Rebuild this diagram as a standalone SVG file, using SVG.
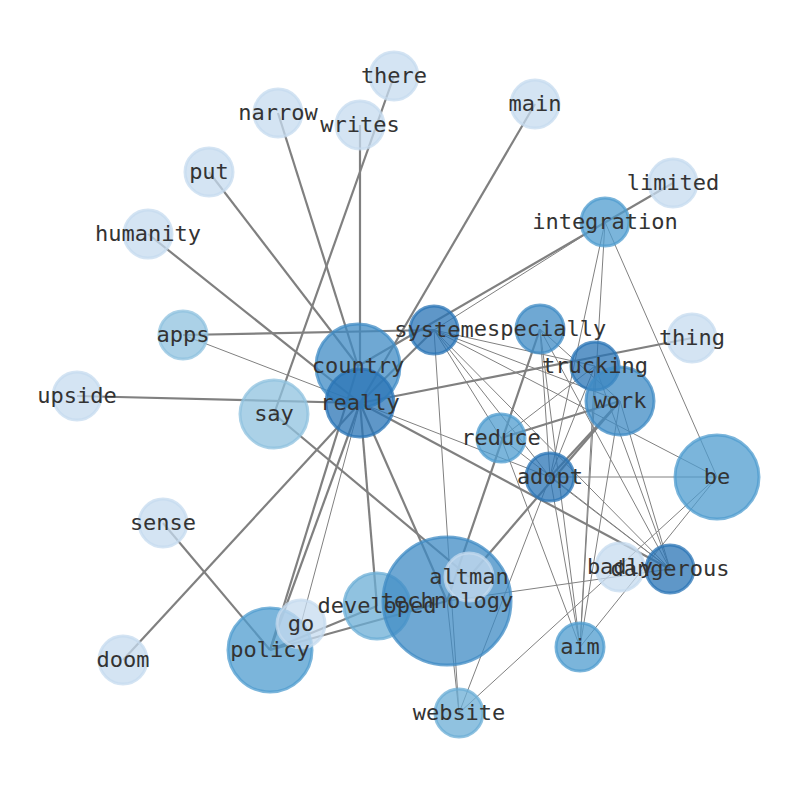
<svg xmlns="http://www.w3.org/2000/svg" width="794" height="790" viewBox="0 0 794 790">
<style>
.e{stroke:#808080;fill:none}
.t{stroke-width:2.2}
.n{stroke-width:1}
circle{stroke-width:3;fill-opacity:0.75;stroke-opacity:0.75}
.c1{fill:#c6dbef;stroke:#c6dbef}
.c2{fill:#8fc2df;stroke:#8fc2df}
.c3{fill:#6baed6;stroke:#6baed6}
.c4{fill:#4f9ccf;stroke:#4f9ccf}
.c5{fill:#3f8bc4;stroke:#3f8bc4}
.c6{fill:#2a74b6;stroke:#2a74b6}
text{font-family:"DejaVu Sans Mono","Liberation Mono",monospace;font-size:22px;fill:#333;text-anchor:middle}
</style>
<rect width="794" height="790" fill="#fff"/>
<g id="edges">
<line class="e t" x1="77" y1="396" x2="360" y2="403"/>
<line class="e t" x1="148" y1="234" x2="360" y2="403"/>
<line class="e t" x1="209" y1="172" x2="358" y2="366"/>
<line class="e t" x1="278" y1="113" x2="358" y2="366"/>
<line class="e t" x1="360" y1="125" x2="360" y2="366"/>
<line class="e t" x1="394" y1="76" x2="274" y2="414"/>
<line class="e t" x1="535" y1="104" x2="360" y2="403"/>
<line class="e t" x1="673" y1="183" x2="358" y2="366"/>
<line class="e t" x1="360" y1="403" x2="692" y2="338"/>
<line class="e t" x1="360" y1="403" x2="670" y2="569"/>
<line class="e t" x1="123" y1="660" x2="360" y2="403"/>
<line class="e t" x1="360" y1="403" x2="270" y2="650"/>
<line class="e t" x1="358" y1="366" x2="270" y2="650"/>
<line class="e t" x1="360" y1="403" x2="377" y2="606"/>
<line class="e t" x1="360" y1="403" x2="447" y2="601"/>
<line class="e n" x1="360" y1="403" x2="301" y2="624"/>
<line class="e t" x1="163" y1="523" x2="270" y2="650"/>
<line class="e t" x1="270" y1="650" x2="377" y2="606"/>
<line class="e t" x1="270" y1="650" x2="447" y2="601"/>
<line class="e t" x1="620" y1="401" x2="469" y2="577"/>
<line class="e t" x1="501" y1="438" x2="620" y2="401"/>
<line class="e t" x1="540" y1="329" x2="447" y2="601"/>
<line class="e t" x1="434" y1="330" x2="360" y2="403"/>
<line class="e t" x1="183" y1="335" x2="434" y2="330"/>
<line class="e t" x1="274" y1="414" x2="469" y2="577"/>
<line class="e n" x1="183" y1="335" x2="360" y2="403"/>
<line class="e n" x1="605" y1="222" x2="434" y2="330"/>
<line class="e n" x1="605" y1="222" x2="580" y2="647"/>
<line class="e n" x1="605" y1="222" x2="717" y2="477"/>
<line class="e n" x1="605" y1="222" x2="550" y2="477"/>
<line class="e n" x1="434" y1="330" x2="459" y2="713"/>
<line class="e n" x1="434" y1="330" x2="550" y2="477"/>
<line class="e n" x1="434" y1="330" x2="501" y2="438"/>
<line class="e n" x1="434" y1="330" x2="595" y2="366"/>
<line class="e n" x1="434" y1="330" x2="620" y2="401"/>
<line class="e n" x1="434" y1="330" x2="670" y2="569"/>
<line class="e n" x1="434" y1="330" x2="717" y2="477"/>
<line class="e n" x1="540" y1="329" x2="550" y2="477"/>
<line class="e n" x1="540" y1="329" x2="580" y2="647"/>
<line class="e n" x1="540" y1="329" x2="620" y2="401"/>
<line class="e n" x1="540" y1="329" x2="670" y2="569"/>
<line class="e n" x1="595" y1="366" x2="550" y2="477"/>
<line class="e n" x1="595" y1="366" x2="580" y2="647"/>
<line class="e n" x1="595" y1="366" x2="670" y2="569"/>
<line class="e n" x1="620" y1="401" x2="580" y2="647"/>
<line class="e n" x1="620" y1="401" x2="670" y2="569"/>
<line class="e t" x1="620" y1="401" x2="550" y2="477"/>
<line class="e n" x1="550" y1="477" x2="717" y2="477"/>
<line class="e n" x1="550" y1="477" x2="459" y2="713"/>
<line class="e n" x1="550" y1="477" x2="670" y2="569"/>
<line class="e n" x1="550" y1="477" x2="580" y2="647"/>
<line class="e n" x1="501" y1="438" x2="580" y2="647"/>
<line class="e n" x1="501" y1="438" x2="670" y2="569"/>
<line class="e n" x1="501" y1="438" x2="595" y2="366"/>
<line class="e n" x1="717" y1="477" x2="580" y2="647"/>
<line class="e n" x1="717" y1="477" x2="459" y2="713"/>
<line class="e n" x1="447" y1="601" x2="670" y2="569"/>
<line class="e n" x1="447" y1="601" x2="459" y2="713"/>
<line class="e n" x1="360" y1="403" x2="550" y2="477"/>
</g>
<g id="n-country"><circle class="c5" cx="358" cy="366" r="42"/></g>
<g id="n-really"><circle class="c6" cx="360" cy="403" r="34"/></g>
<g id="n-there"><circle class="c1" cx="394" cy="76" r="24"/></g>
<g id="n-narrow"><circle class="c1" cx="278" cy="113" r="24"/></g>
<g id="n-writes"><circle class="c1" cx="360" cy="125" r="24"/></g>
<g id="n-main"><circle class="c1" cx="535" cy="104" r="24"/></g>
<g id="n-put"><circle class="c1" cx="209" cy="172" r="24"/></g>
<g id="n-limited"><circle class="c1" cx="673" cy="183" r="24"/></g>
<g id="n-integration"><circle class="c4" cx="605" cy="222" r="24"/></g>
<g id="n-humanity"><circle class="c1" cx="148" cy="234" r="24"/></g>
<g id="n-apps"><circle class="c2" cx="183" cy="335" r="24"/></g>
<g id="n-system"><circle class="c6" cx="434" cy="330" r="24"/></g>
<g id="n-especially"><circle class="c5" cx="540" cy="329" r="24"/></g>
<g id="n-thing"><circle class="c1" cx="692" cy="338" r="24"/></g>
<g id="n-trucking"><circle class="c6" cx="595" cy="366" r="24"/></g>
<g id="n-work"><circle class="c5" cx="620" cy="401" r="34"/></g>
<g id="n-upside"><circle class="c1" cx="77" cy="396" r="24"/></g>
<g id="n-say"><circle class="c2" cx="274" cy="414" r="34"/></g>
<g id="n-reduce"><circle class="c4" cx="501" cy="438" r="24"/></g>
<g id="n-adopt"><circle class="c6" cx="550" cy="477" r="24"/></g>
<g id="n-be"><circle class="c4" cx="717" cy="477" r="42"/></g>
<g id="n-sense"><circle class="c1" cx="163" cy="523" r="24"/></g>
<g id="n-badly"><circle class="c1" cx="620" cy="567" r="24"/></g>
<g id="n-dangerous"><circle class="c6" cx="670" cy="569" r="24"/></g>
<g id="n-developed"><circle class="c3" cx="377" cy="606" r="33"/></g>
<g id="n-technology"><circle class="c5" cx="447" cy="601" r="64"/></g>
<g id="n-altman"><circle class="c1" cx="469" cy="577" r="24"/></g>
<g id="n-policy"><circle class="c4" cx="270" cy="650" r="42"/></g>
<g id="n-go"><circle class="c1" cx="301" cy="624" r="24"/></g>
<g id="n-doom"><circle class="c1" cx="123" cy="660" r="24"/></g>
<g id="n-aim"><circle class="c4" cx="580" cy="647" r="24"/></g>
<g id="n-website"><circle class="c3" cx="459" cy="713" r="24"/></g>
<g id="labels">
<text x="394" y="83">there</text>
<text x="278" y="120">narrow</text>
<text x="360" y="132">writes</text>
<text x="535" y="111">main</text>
<text x="209" y="179">put</text>
<text x="673" y="190">limited</text>
<text x="605" y="229">integration</text>
<text x="148" y="241">humanity</text>
<text x="183" y="342">apps</text>
<text x="434" y="337">system</text>
<text x="540" y="336">especially</text>
<text x="692" y="345">thing</text>
<text x="358" y="373">country</text>
<text x="595" y="373">trucking</text>
<text x="620" y="408">work</text>
<text x="77" y="403">upside</text>
<text x="360" y="410">really</text>
<text x="274" y="421">say</text>
<text x="501" y="445">reduce</text>
<text x="550" y="484">adopt</text>
<text x="717" y="484">be</text>
<text x="163" y="530">sense</text>
<text x="620" y="574">badly</text>
<text x="670" y="576">dangerous</text>
<text x="469" y="584">altman</text>
<text x="447" y="608">technology</text>
<text x="377" y="613">developed</text>
<text x="301" y="631">go</text>
<text x="270" y="657">policy</text>
<text x="123" y="667">doom</text>
<text x="580" y="654">aim</text>
<text x="459" y="720">website</text>
</g>
</svg>
